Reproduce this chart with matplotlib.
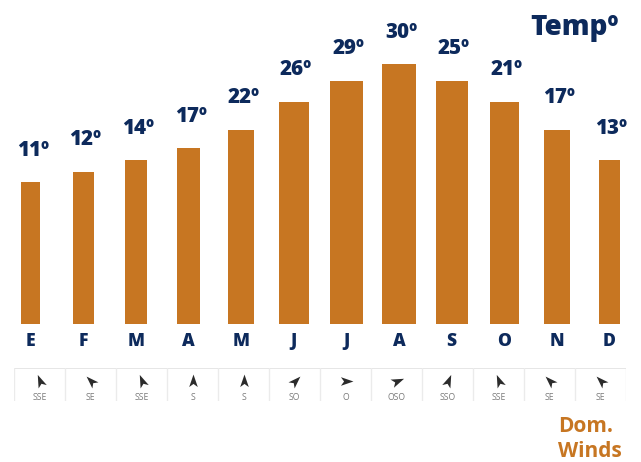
import numpy as np
import matplotlib
matplotlib.use("Agg")
import matplotlib.pyplot as plt

# ---- data ----
months = ["E", "F", "M", "A", "M", "J", "J", "A", "S", "O", "N", "D"]
temp_labels = [11, 12, 14, 17, 22, 26, 29, 30, 25, 21, 17, 13]
bar_values = [16.2, 17.4, 18.7, 20.1, 22.2, 25.4, 27.8, 29.7, 27.8, 25.4, 22.2, 18.7]
wind_dirs = ["SSE", "SE", "SSE", "S", "S", "SO", "O", "OSO", "SSO", "SSE", "SE", "SE"]

compass = {"N": 0, "NNE": 22.5, "NE": 45, "ENE": 67.5, "E": 90, "ESE": 112.5,
           "SE": 135, "SSE": 157.5, "S": 180, "SSO": 202.5, "SO": 225,
           "OSO": 247.5, "O": 270, "ONO": 292.5, "NO": 315, "NNO": 337.5}

NAVY = "#0d2a5c"
ORANGE = "#c77622"
FONT = ["Open Sans", "DejaVu Sans"]

W, H = 641, 462
fig = plt.figure(figsize=(W / 100, H / 100), dpi=100)

# ---- bar axes ----
base_px = 138
ax = fig.add_axes([0, base_px / H, 1, (H - base_px) / H])
px_per_unit_x = 52.6
x0_px = 30.9
ax.set_xlim(-x0_px / px_per_unit_x, (W - x0_px) / px_per_unit_x)
ax.set_ylim(0, (H - base_px) / 8.75)
ax.axis("off")

x = np.arange(len(months))
widths = [0.0221 * v for v in bar_values]
ax.bar(x, bar_values, width=widths, color=ORANGE, edgecolor="none")

for xi, v, t in zip(x, bar_values, temp_labels):
    ax.annotate(f"{t}º", (xi, v), xytext=(1.5, 23), textcoords="offset points",
                ha="center", va="center", fontsize=14.8, fontweight=800,
                color=NAVY, family=FONT)

for xi, m in zip(x, months):
    ax.annotate(m, (xi, 0), xytext=(0, -12.4), textcoords="offset points",
                ha="center", va="center", fontsize=12.6, fontweight=800,
                color=NAVY, family=FONT)

# ---- wind table ----
tx0, tx1, ty0, ty1 = 14, 626, 401, 368
tax = fig.add_axes([tx0 / W, (H - ty0) / H, (tx1 - tx0) / W, (ty0 - ty1) / H])
tax.set_xlim(0, len(months))
tax.set_ylim(0, 1)
tax.axis("off")
tax.axhline(1, color="#e2e2e2", lw=1.2)
for k in range(len(months) + 1):
    tax.axvline(k, color="#ebebeb", lw=1.0)

base_arrow = np.array([[0, 1.0], [0.62, -0.8], [0, -0.35], [-0.62, -0.8], [0, 1.0]])
for i, d in enumerate(wind_dirs):
    h = np.deg2rad((compass[d] + 180) % 360)
    c, s = np.cos(h), np.sin(h)
    verts = np.column_stack([base_arrow[:, 0] * c + base_arrow[:, 1] * s,
                             -base_arrow[:, 0] * s + base_arrow[:, 1] * c])
    tax.plot(i + 0.5, 0.6, marker=verts, markersize=10, color="#2b2b2b",
             markeredgewidth=0)
    tax.text(i + 0.5, 0.12, d, ha="center", va="center", fontsize=6.2,
             color="#7a7a7a", family=FONT)

# ---- titles ----
fig.text(619 / W, (H - 35) / H, "Tempº", ha="right", va="baseline",
         fontsize=20, fontweight=800, color=NAVY, family=FONT)
fig.text(558 / W, (H - 432) / H, "Dom.", ha="left", va="baseline",
         fontsize=15, fontweight="bold", color=ORANGE, family=FONT)
fig.text(558 / W, (H - 457) / H, "Winds", ha="left", va="baseline",
         fontsize=15, fontweight="bold", color=ORANGE, family=FONT)

fig.savefig("out.png", dpi=100)
